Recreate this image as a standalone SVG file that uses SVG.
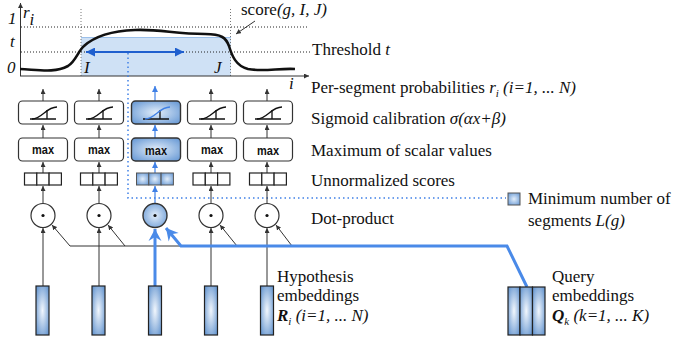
<svg xmlns="http://www.w3.org/2000/svg" width="675" height="343" viewBox="0 0 675 343">
<style>
text{font-family:"Liberation Serif","Times New Roman",serif;fill:#111;font-size:17px}
.it{font-style:italic}
.mx{font-family:"Liberation Sans",Arial,sans-serif;font-weight:bold;font-size:13px;text-anchor:middle}
.box{fill:#fff;stroke:#333;stroke-width:1.2}
.hbox{fill:url(#gBox);stroke:#333;stroke-width:1.4}
.ln{stroke:#333;stroke-width:1;fill:none}
.lb{stroke:#3f80e6;stroke-width:1.2;fill:none}
.sig{fill:none;stroke:#111;stroke-width:1.3}
.cell{fill:#fff;stroke:#222;stroke-width:1.2}
.hcell{fill:url(#gBox);stroke:#555;stroke-width:1}
.bar{fill:url(#gBar);stroke:#222;stroke-width:1.2}
.dot{fill:#111}
</style>
<defs>
<radialGradient id="gBar" cx="50%" cy="50%" r="75%">
<stop offset="0" stop-color="#f2f7fd"/>
<stop offset="1" stop-color="#4f86c8"/>
</radialGradient>
<radialGradient id="gBox" cx="50%" cy="50%" r="70%">
<stop offset="0" stop-color="#e3eefa"/>
<stop offset="1" stop-color="#5f93d2"/>
</radialGradient>
<marker id="ah" viewBox="0 0 6 6" refX="6" refY="3" markerWidth="5" markerHeight="5" markerUnits="userSpaceOnUse" orient="auto">
<path d="M0,0 L6,3 L0,6 Z" fill="#333"/>
</marker>
<marker id="ahb" viewBox="0 0 6 6" refX="6" refY="3" markerWidth="6" markerHeight="6" markerUnits="userSpaceOnUse" orient="auto">
<path d="M0,0 L6,3 L0,6 Z" fill="#3f80e6"/>
</marker>
<marker id="ahd" viewBox="0 0 8 8" refX="8" refY="4" markerWidth="9" markerHeight="9" markerUnits="userSpaceOnUse" orient="auto-start-reverse">
<path d="M0,0 L8,4 L0,8 Z" fill="#1f5fce"/>
</marker>
<marker id="big" viewBox="-13 -7 14 14" refX="0" refY="0" markerWidth="14" markerHeight="14" markerUnits="userSpaceOnUse" orient="auto">
<path d="M0,0 L-12,-6.5 L-8,0 L-12,6.5 Z" fill="#4a8ae8"/>
</marker>
</defs>

<!-- Graph -->
<g id="graph">
<rect x="81" y="37" width="150" height="39" fill="#cfe1f5"/>
<line x1="81" y1="37.5" x2="231" y2="37.5" stroke="#9cc0ea" stroke-width="1"/>
<line x1="81" y1="9" x2="81" y2="76" stroke="#777" stroke-width="1" stroke-dasharray="1,2"/>
<line x1="230.5" y1="9" x2="230.5" y2="76" stroke="#777" stroke-width="1" stroke-dasharray="1,2"/>
<line x1="21" y1="27" x2="308" y2="27" stroke="#222" stroke-width="1" stroke-dasharray="1,2"/>
<line x1="21" y1="52" x2="310" y2="52" stroke="#222" stroke-width="1" stroke-dasharray="1,2"/>
<line x1="20.5" y1="76" x2="20.5" y2="3" class="ln" stroke-width="1.2" marker-end="url(#ah)"/>
<line x1="20" y1="76" x2="309" y2="76" class="ln" stroke-width="1.2" marker-end="url(#ah)"/>
<path d="M20,69 C40,70 55,73 68,66 C76,61 78,51 84,46 C95,36 110,31 135,30 C160,29 175,34 205,34 C222,34 226,38 229,46 C232,56 236,66 248,69 C262,72 280,68 295,69" fill="none" stroke="#111" stroke-width="2.6"/>
<line x1="86" y1="52" x2="184" y2="52" stroke="#1f5fce" stroke-width="2" marker-start="url(#ahd)" marker-end="url(#ahd)"/>
<text x="8" y="24" class="it" font-size="14">1</text>
<text x="10" y="47" class="it" font-size="14">t</text>
<text x="7" y="73" class="it" font-size="14">0</text>
<text x="23" y="18" class="it" font-size="18">r</text>
<text x="29.5" y="25" class="it" font-size="12">i</text>
<text x="289" y="89" class="it" font-size="13">i</text>
<text x="84" y="73" class="it" font-size="14">I</text>
<text x="214" y="73" class="it" font-size="14">J</text>
<text x="241" y="15" font-size="16.5">score<tspan class="it">(g, I, J)</tspan></text>
<line x1="255" y1="21" x2="236" y2="34" class="ln" marker-end="url(#ah)"/>
</g>

<!-- dotted selection frame -->
<path d="M128,53 V198 H506" fill="none" stroke="#3f80e6" stroke-width="1.5" stroke-dasharray="1.5,3"/>

<!-- Connectors -->
<g id="connectors">
<g id="col-arrows">
<line x1="43" y1="203" x2="43" y2="186" class="ln" marker-end="url(#ah)"/>
<line x1="43" y1="173" x2="43" y2="162" class="ln" marker-end="url(#ah)"/>
<line x1="43" y1="138" x2="43" y2="125" class="ln" marker-end="url(#ah)"/>
<line x1="43" y1="101" x2="43" y2="89" class="ln" marker-end="url(#ah)"/>
<line x1="43" y1="286" x2="43" y2="228" class="ln" marker-end="url(#ah)"/>
<line x1="99" y1="203" x2="99" y2="186" class="ln" marker-end="url(#ah)"/>
<line x1="99" y1="173" x2="99" y2="162" class="ln" marker-end="url(#ah)"/>
<line x1="99" y1="138" x2="99" y2="125" class="ln" marker-end="url(#ah)"/>
<line x1="99" y1="101" x2="99" y2="89" class="ln" marker-end="url(#ah)"/>
<line x1="99" y1="286" x2="99" y2="228" class="ln" marker-end="url(#ah)"/>
<line x1="155" y1="203" x2="155" y2="186" class="lb" marker-end="url(#ahb)"/>
<line x1="155" y1="173" x2="155" y2="162" class="lb" marker-end="url(#ahb)"/>
<line x1="155" y1="138" x2="155" y2="125" class="lb" marker-end="url(#ahb)"/>
<line x1="155" y1="101" x2="155" y2="86" class="lb" marker-end="url(#ahb)"/>
<line x1="211" y1="203" x2="211" y2="186" class="ln" marker-end="url(#ah)"/>
<line x1="211" y1="173" x2="211" y2="162" class="ln" marker-end="url(#ah)"/>
<line x1="211" y1="138" x2="211" y2="125" class="ln" marker-end="url(#ah)"/>
<line x1="211" y1="101" x2="211" y2="89" class="ln" marker-end="url(#ah)"/>
<line x1="211" y1="286" x2="211" y2="228" class="ln" marker-end="url(#ah)"/>
<line x1="267" y1="203" x2="267" y2="186" class="ln" marker-end="url(#ah)"/>
<line x1="267" y1="173" x2="267" y2="162" class="ln" marker-end="url(#ah)"/>
<line x1="267" y1="138" x2="267" y2="125" class="ln" marker-end="url(#ah)"/>
<line x1="267" y1="101" x2="267" y2="89" class="ln" marker-end="url(#ah)"/>
<line x1="267" y1="286" x2="267" y2="228" class="ln" marker-end="url(#ah)"/>
</g>
<g id="query-lines">
<path d="M70,246 H181" class="ln" stroke="#222"/>
<line x1="70" y1="246" x2="52" y2="225" class="ln" marker-end="url(#ah)"/>
<line x1="125" y1="246" x2="108" y2="225" class="ln" marker-end="url(#ah)"/>
<line x1="237" y1="246" x2="220" y2="225" class="ln" marker-end="url(#ah)"/>
<line x1="292" y1="246" x2="276" y2="225" class="ln" marker-end="url(#ah)"/>
<path d="M527,287 L507,246 H181 L166,228" fill="none" stroke="#4a8ae8" stroke-width="3" stroke-linejoin="miter" marker-end="url(#big)"/>
<line x1="155" y1="286" x2="155" y2="229" stroke="#4a8ae8" stroke-width="3" marker-end="url(#big)"/>
</g>
</g>

<!-- Columns -->
<g id="col1">
<rect x="18.5" y="101" width="49" height="23" rx="4" class="box"/>
<path d="M30,119 H56 M47,110 V119" class="sig"/>
<path d="M32,119 C42,119 46,107 57,107" class="sig"/>
<rect x="18.5" y="138" width="49" height="23" rx="4" class="box"/>
<text x="43" y="154" class="mx" textLength="22" lengthAdjust="spacingAndGlyphs">max</text>
<rect x="24.5" y="173" width="12.3" height="12" class="cell"/><rect x="36.8" y="173" width="12.3" height="12" class="cell"/><rect x="49.1" y="173" width="12.3" height="12" class="cell"/>
<circle cx="43" cy="215.5" r="12" class="box"/><circle cx="43" cy="215.5" r="1.6" class="dot"/>
<rect x="36" y="286" width="13" height="49" class="bar"/>
</g>
<g id="col2">
<rect x="74.5" y="101" width="49" height="23" rx="4" class="box"/>
<path d="M86,119 H112 M103,110 V119" class="sig"/>
<path d="M88,119 C98,119 102,107 113,107" class="sig"/>
<rect x="74.5" y="138" width="49" height="23" rx="4" class="box"/>
<text x="99" y="154" class="mx" textLength="22" lengthAdjust="spacingAndGlyphs">max</text>
<rect x="80.5" y="173" width="12.3" height="12" class="cell"/><rect x="92.8" y="173" width="12.3" height="12" class="cell"/><rect x="105.1" y="173" width="12.3" height="12" class="cell"/>
<circle cx="99" cy="215.5" r="12" class="box"/><circle cx="99" cy="215.5" r="1.6" class="dot"/>
<rect x="92" y="286" width="13" height="49" class="bar"/>
</g>
<g id="col3">
<rect x="131.5" y="101" width="49" height="23" rx="4" class="hbox"/>
<path d="M143,119 H169 M160,110 V119" class="sig"/>
<path d="M145,119 C155,119 159,107 170,107" fill="none" stroke="#3f80e6" stroke-width="1.3"/>
<rect x="131.5" y="138" width="49" height="23" rx="4" class="hbox"/>
<text x="156" y="155" class="mx" textLength="22" lengthAdjust="spacingAndGlyphs">max</text>
<rect x="136.5" y="173" width="12.3" height="12" class="hcell"/><rect x="148.8" y="173" width="12.3" height="12" class="hcell"/><rect x="161.1" y="173" width="12.3" height="12" class="hcell"/>
<circle cx="155" cy="215.5" r="12" class="hbox"/><circle cx="155" cy="215.5" r="1.6" class="dot"/>
<rect x="148.5" y="286" width="13" height="49" class="bar"/>
</g>
<g id="col4">
<rect x="187.5" y="101" width="49" height="23" rx="4" class="box"/>
<path d="M199,119 H225 M216,110 V119" class="sig"/>
<path d="M201,119 C211,119 215,107 226,107" class="sig"/>
<rect x="187.5" y="138" width="49" height="23" rx="4" class="box"/>
<text x="212" y="154" class="mx" textLength="22" lengthAdjust="spacingAndGlyphs">max</text>
<rect x="193" y="173" width="12.3" height="12" class="cell"/><rect x="205.3" y="173" width="12.3" height="12" class="cell"/><rect x="217.6" y="173" width="12.3" height="12" class="cell"/>
<circle cx="211" cy="215.5" r="12" class="box"/><circle cx="211" cy="215.5" r="1.6" class="dot"/>
<rect x="204.5" y="286" width="13" height="49" class="bar"/>
</g>
<g id="col5">
<rect x="243.5" y="101" width="49" height="23" rx="4" class="box"/>
<path d="M255,119 H281 M272,110 V119" class="sig"/>
<path d="M257,119 C267,119 271,107 282,107" class="sig"/>
<rect x="243.5" y="138" width="49" height="23" rx="4" class="box"/>
<text x="268" y="155" class="mx" textLength="22" lengthAdjust="spacingAndGlyphs">max</text>
<rect x="249.5" y="173" width="12.3" height="12" class="cell"/><rect x="261.8" y="173" width="12.3" height="12" class="cell"/><rect x="274.1" y="173" width="12.3" height="12" class="cell"/>
<circle cx="267" cy="215.5" r="12" class="box"/><circle cx="267" cy="215.5" r="1.6" class="dot"/>
<rect x="260.5" y="286" width="13" height="49" class="bar"/>
</g>
<g id="query">
<rect x="508" y="287" width="12" height="48" class="bar"/>
<rect x="520" y="287" width="12.5" height="48" class="bar"/>
<rect x="532.5" y="287" width="12.5" height="48" class="bar"/>
</g>
<g id="legend">
<rect x="508" y="193" width="12" height="12" class="hcell" stroke="#333"/>
</g>

<!-- Labels -->
<g id="labels">
<text x="312" y="55">Threshold <tspan class="it">t</tspan></text>
<text x="311" y="93">Per-segment probabilities <tspan class="it">r</tspan><tspan class="it" font-size="11" dy="4">i</tspan><tspan class="it" dy="-4"> (i=1, ... N)</tspan></text>
<text x="311" y="124">Sigmoid calibration <tspan class="it">σ(αx+β)</tspan></text>
<text x="311" y="156">Maximum of scalar values</text>
<text x="311" y="186">Unnormalized scores</text>
<text x="311" y="224">Dot-product</text>
<text x="528" y="204" font-size="16.5">Minimum number of</text>
<text x="528" y="226" font-size="16.5">segments <tspan class="it">L(g)</tspan></text>
<text x="277" y="282">Hypothesis</text>
<text x="277" y="301">embeddings</text>
<text x="277" y="321"><tspan class="it" font-weight="bold">R</tspan><tspan class="it" font-size="11" dy="4">i</tspan><tspan class="it" dy="-4"> (i=1, ... N)</tspan></text>
<text x="552" y="282">Query</text>
<text x="552" y="301">embeddings</text>
<text x="552" y="321"><tspan class="it" font-weight="bold">Q</tspan><tspan class="it" font-size="11" dy="4">k</tspan><tspan class="it" dy="-4"> (k=1, ... K)</tspan></text>
</g>
</svg>
